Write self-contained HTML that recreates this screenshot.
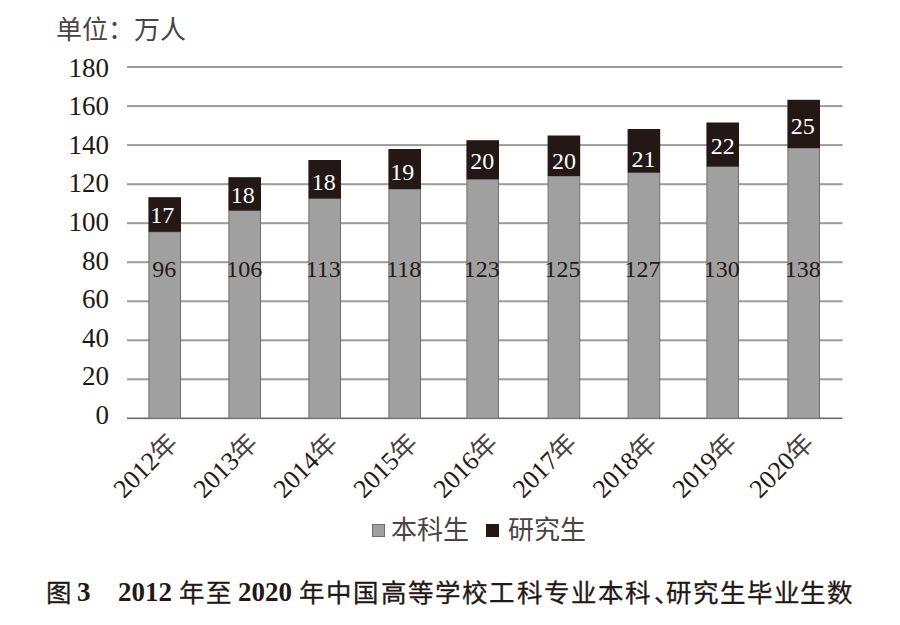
<!DOCTYPE html>
<html lang="zh-CN"><head><meta charset="utf-8"><style>
html,body{margin:0;padding:0;background:#fff;width:900px;height:625px;overflow:hidden}
svg{position:absolute;left:0;top:0}
.yl{font-family:"Liberation Serif",serif;font-size:27px;text-anchor:end;fill:#231815}
.dl{font-family:"Liberation Serif",serif;font-size:24px;text-anchor:middle;fill:#fff}
.gl{font-family:"Liberation Serif",serif;font-size:24px;text-anchor:middle;fill:#231815}
.xl{font-family:"Liberation Serif",serif;font-size:26px;text-anchor:end;fill:#231815}
.cj{font-family:"Liberation Sans",sans-serif;fill:#4a4444}
.unit{position:absolute;left:56px;top:9px;font-family:"Liberation Sans",sans-serif;font-size:26px;color:#4a4444;white-space:nowrap}
.leg{position:absolute;top:509px;font-family:"Liberation Sans",sans-serif;font-size:26px;color:#4a4444;white-space:nowrap}
.sq{position:absolute;width:13px;height:12.5px}
.cap{position:absolute;top:581px;color:#231815;white-space:nowrap;line-height:1}
.cap.n{font-family:"Liberation Serif",serif;font-size:27px;font-weight:bold;margin-top:-2.5px}
.cap.c{font-family:"Liberation Sans",sans-serif;font-size:25.5px;font-weight:normal;-webkit-text-stroke:0.3px #231815;letter-spacing:1.2px}
</style></head><body>
<div class="unit">单位：万人</div>
<svg width="900" height="625" viewBox="0 0 900 625">
<rect x="127" y="66.0" width="715.5" height="2" fill="#9b9b9b"/>
<rect x="127" y="105.1" width="715.5" height="2" fill="#9b9b9b"/>
<rect x="127" y="144.1" width="715.5" height="2" fill="#9b9b9b"/>
<rect x="127" y="183.2" width="715.5" height="2" fill="#9b9b9b"/>
<rect x="127" y="222.2" width="715.5" height="2" fill="#9b9b9b"/>
<rect x="127" y="261.2" width="715.5" height="2" fill="#9b9b9b"/>
<rect x="127" y="300.3" width="715.5" height="2" fill="#9b9b9b"/>
<rect x="127" y="339.3" width="715.5" height="2" fill="#9b9b9b"/>
<rect x="127" y="378.3" width="715.5" height="2" fill="#9b9b9b"/>
<rect x="127" y="417.5" width="715.5" height="1.6" fill="#6a6a6a"/>
<text x="109" y="76.6" class="yl">180</text>
<text x="109" y="115.2" class="yl">160</text>
<text x="109" y="153.8" class="yl">140</text>
<text x="109" y="192.4" class="yl">120</text>
<text x="109" y="231.0" class="yl">100</text>
<text x="109" y="269.6" class="yl">80</text>
<text x="109" y="308.2" class="yl">60</text>
<text x="109" y="346.8" class="yl">40</text>
<text x="109" y="385.4" class="yl">20</text>
<text x="109" y="424.0" class="yl">0</text>
<rect x="148.9" y="231.8" width="31.6" height="186.5" fill="#a0a0a0" stroke="#6e6e6e" stroke-width="1"/>
<rect x="148.4" y="197.2" width="32.6" height="34.6" fill="#231815"/>
<text x="162.2" y="223.2" class="dl">17</text>
<text x="164.2" y="277" class="gl">96</text>
<text x="179.2" y="444.2" class="xl" transform="rotate(-45 179.2 444.2)">2012<tspan class="cj">年</tspan></text>
<rect x="228.9" y="210.5" width="31.6" height="207.8" fill="#a0a0a0" stroke="#6e6e6e" stroke-width="1"/>
<rect x="228.4" y="177.2" width="32.6" height="33.3" fill="#231815"/>
<text x="242.7" y="203.3" class="dl">18</text>
<text x="244.2" y="277" class="gl">106</text>
<text x="259.2" y="444.2" class="xl" transform="rotate(-45 259.2 444.2)">2013<tspan class="cj">年</tspan></text>
<rect x="308.9" y="198.5" width="31.6" height="219.8" fill="#a0a0a0" stroke="#6e6e6e" stroke-width="1"/>
<rect x="308.4" y="160.0" width="32.6" height="38.5" fill="#231815"/>
<text x="323.7" y="189.5" class="dl">18</text>
<text x="323.2" y="277" class="gl">113</text>
<text x="339.2" y="444.2" class="xl" transform="rotate(-45 339.2 444.2)">2014<tspan class="cj">年</tspan></text>
<rect x="388.9" y="189.0" width="31.6" height="229.3" fill="#a0a0a0" stroke="#6e6e6e" stroke-width="1"/>
<rect x="388.4" y="149.0" width="32.6" height="40.0" fill="#231815"/>
<text x="402.2" y="180.3" class="dl">19</text>
<text x="403.7" y="277" class="gl">118</text>
<text x="419.2" y="444.2" class="xl" transform="rotate(-45 419.2 444.2)">2015<tspan class="cj">年</tspan></text>
<rect x="466.9" y="179.2" width="31.6" height="239.1" fill="#a0a0a0" stroke="#6e6e6e" stroke-width="1"/>
<rect x="466.4" y="140.2" width="32.6" height="39.0" fill="#231815"/>
<text x="482.2" y="168.5" class="dl">20</text>
<text x="481.7" y="277" class="gl">123</text>
<text x="499.2" y="444.2" class="xl" transform="rotate(-45 499.2 444.2)">2016<tspan class="cj">年</tspan></text>
<rect x="548.1" y="176.0" width="31.6" height="242.3" fill="#a0a0a0" stroke="#6e6e6e" stroke-width="1"/>
<rect x="547.6" y="135.5" width="32.6" height="40.5" fill="#231815"/>
<text x="563.9" y="168.5" class="dl">20</text>
<text x="562.4" y="277" class="gl">125</text>
<text x="578.4" y="444.2" class="xl" transform="rotate(-45 578.4 444.2)">2017<tspan class="cj">年</tspan></text>
<rect x="628.1" y="172.5" width="31.6" height="245.8" fill="#a0a0a0" stroke="#6e6e6e" stroke-width="1"/>
<rect x="627.6" y="129.0" width="32.6" height="43.5" fill="#231815"/>
<text x="643.4" y="166.5" class="dl">21</text>
<text x="642.4" y="277" class="gl">127</text>
<text x="658.4" y="444.2" class="xl" transform="rotate(-45 658.4 444.2)">2018<tspan class="cj">年</tspan></text>
<rect x="706.9" y="166.5" width="31.6" height="251.8" fill="#a0a0a0" stroke="#6e6e6e" stroke-width="1"/>
<rect x="706.4" y="122.5" width="32.6" height="44.0" fill="#231815"/>
<text x="722.7" y="153.5" class="dl">22</text>
<text x="721.7" y="277" class="gl">130</text>
<text x="738.2" y="444.2" class="xl" transform="rotate(-45 738.2 444.2)">2019<tspan class="cj">年</tspan></text>
<rect x="787.9" y="148.0" width="31.6" height="270.3" fill="#a0a0a0" stroke="#6e6e6e" stroke-width="1"/>
<rect x="787.4" y="99.8" width="32.6" height="48.2" fill="#231815"/>
<text x="802.7" y="133.5" class="dl">25</text>
<text x="802.7" y="277" class="gl">138</text>
<text x="815.2" y="444.2" class="xl" transform="rotate(-45 815.2 444.2)">2020<tspan class="cj">年</tspan></text>
</svg>
<div class="sq" style="left:372px;top:524px;background:#a0a0a0;box-shadow:inset 0 0 0 1px #6e6e6e"></div>
<div class="leg" style="left:391px">本科生</div>
<div class="sq" style="left:485.5px;top:524px;background:#231815"></div>
<div class="leg" style="left:508px">研究生</div>
<div class="cap c" style="left:45.5px">图</div>
<div class="cap n" style="left:77px">3</div>
<div class="cap n" style="left:118px">2012</div>
<div class="cap c" style="left:179px">年至</div>
<div class="cap n" style="left:238px">2020</div>
<div class="cap c" style="left:299px">年中国高等学校工科专业本科</div>
<div class="cap c" style="left:654px">、</div>
<div class="cap c" style="left:666px;letter-spacing:0.9px">研究生毕业生数</div>
</body></html>
